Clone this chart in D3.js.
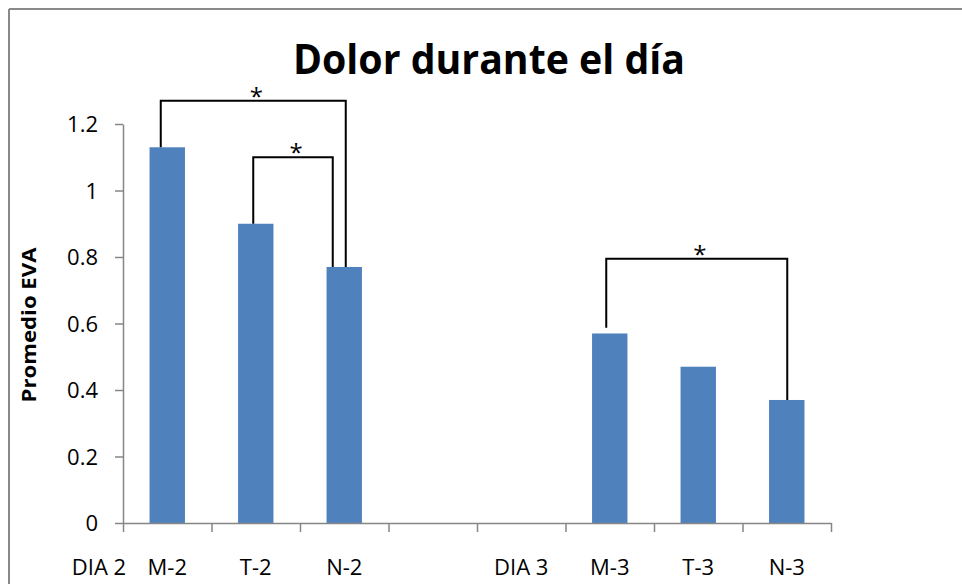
<!DOCTYPE html>
<html>
<head>
<meta charset="utf-8">
<script src="https://cdn.jsdelivr.net/npm/d3@7"></script>
<style>
  html, body { margin: 0; padding: 0; background: #fff; }
  svg { display: block; }
</style>
</head>
<body>
<svg id="chart" width="962" height="584"></svg>
<script>
// ---- data ----
const slots = ["M-2", "T-2", "N-2", "gapA", "gapB", "M-3", "T-3", "N-3"];
const categories = ["M-2", "T-2", "N-2", "M-3", "T-3", "N-3"];
const values = [1.13, 0.90, 0.77, 0.57, 0.47, 0.37];
const yTicks = [0, 0.2, 0.4, 0.6, 0.8, 1, 1.2];
const yTickLabels = ["0", "0.2", "0.4", "0.6", "0.8", "1", "1.2"];
const groupLabels = ["DIA 2", "DIA 3"];
const title = "Dolor durante el día";
const yTitle = "Promedio EVA";
// significance brackets: from, to, top value, left end value, right end value
const bracketFrom = ["M-2", "T-2", "M-3"];
const bracketTo = ["N-2", "N-2", "N-3"];
const bracketTop = [1.27, 1.10, 0.795];
const bracketFromEnd = [1.13, 0.90, 0.587];
const bracketToEnd = [0.77, 0.77, 0.37];
const bracketMark = ["*", "*", "*"];

// ---- layout ----
const svg = d3.select("#chart");
const x0 = 123, x1 = 831, yBase = 523, yTop = 124;
const axisColor = "#868686";
const fontFamily = "'Open Sans', 'Liberation Sans', sans-serif";

const x = d3.scaleBand().domain(slots).range([x0, x1]).paddingInner(0.6).paddingOuter(0.3);
const xb = d3.scaleLinear().domain([0, slots.length]).range([x0, x1]);
const y = d3.scaleLinear().domain([0, 1.2]).range([yBase, yTop]);
const cx = s => x(s) + x.bandwidth() / 2;

// frame (left and top edges)
svg.append("line").attr("x1", 9).attr("y1", 9).attr("x2", 962).attr("y2", 9)
  .attr("stroke", "#898989").attr("stroke-width", 2);
svg.append("line").attr("x1", 9).attr("y1", 9).attr("x2", 9).attr("y2", 584)
  .attr("stroke", "#898989").attr("stroke-width", 2);

// title
svg.append("text").attr("x", 489).attr("y", 74).attr("text-anchor", "middle")
  .attr("font-family", fontFamily).attr("font-weight", "bold").attr("font-size", 42)
  .attr("textLength", 392).attr("lengthAdjust", "spacingAndGlyphs")
  .attr("fill", "#000").text(title);

// y axis
const yAxis = d3.axisLeft(y).tickValues(yTicks)
  .tickFormat((d, i) => yTickLabels[i]).tickSize(8).tickSizeOuter(0).tickPadding(17);
const gy = svg.append("g").attr("transform", `translate(${x0},0)`).call(yAxis);
gy.select(".domain").attr("stroke", axisColor).attr("stroke-width", 1.5);
gy.selectAll(".tick line").attr("stroke", axisColor).attr("stroke-width", 1.5);
gy.selectAll(".tick text").attr("font-family", fontFamily).attr("font-size", 22)
  .attr("fill", "#000").attr("dy", "0.35em");

// y title
svg.append("text")
  .attr("transform", "translate(36,325) rotate(-90)")
  .attr("text-anchor", "middle")
  .attr("font-family", fontFamily).attr("font-weight", "bold").attr("font-size", 20)
  .attr("textLength", 155).attr("lengthAdjust", "spacingAndGlyphs")
  .attr("fill", "#000").text(yTitle);

// bars
svg.append("g").selectAll("rect").data(categories).join("rect")
  .attr("x", d => x(d))
  .attr("width", x.bandwidth())
  .attr("y", (d, i) => y(values[i]))
  .attr("height", (d, i) => yBase - y(values[i]))
  .attr("fill", "#4F81BD");

// x axis (ticks at slot boundaries)
const xAxis = d3.axisBottom(xb).tickValues(d3.range(0, slots.length + 1))
  .tickFormat("").tickSize(9).tickSizeOuter(0);
const gx = svg.append("g").attr("transform", `translate(0,${yBase})`).call(xAxis);
gx.select(".domain").attr("stroke", axisColor).attr("stroke-width", 1.5);
gx.selectAll(".tick line").attr("stroke", axisColor).attr("stroke-width", 1.5);

// category labels
svg.append("g").selectAll("text").data(categories).join("text")
  .attr("x", d => cx(d)).attr("y", 575).attr("text-anchor", "middle")
  .attr("font-family", fontFamily).attr("font-size", 22).attr("fill", "#000")
  .text(d => d);

// group labels
svg.append("text").attr("x", 99).attr("y", 575).attr("text-anchor", "middle")
  .attr("font-family", fontFamily).attr("font-size", 22).attr("fill", "#000")
  .text(groupLabels[0]);
svg.append("text").attr("x", xb(4.5)).attr("y", 575).attr("text-anchor", "middle")
  .attr("font-family", fontFamily).attr("font-size", 22).attr("fill", "#000")
  .text(groupLabels[1]);

// brackets
const fromDx = [-6.5, -2.5, -3.5];
const toDx = [1.5, -11.5, 0.5];
const gb = svg.append("g");
bracketFrom.forEach((f, i) => {
  const xl = cx(f) + fromDx[i];
  const xr = cx(bracketTo[i]) + toDx[i];
  const yt = y(bracketTop[i]);
  gb.append("path")
    .attr("d", `M${xl},${y(bracketFromEnd[i])}V${yt}H${xr}V${y(bracketToEnd[i])}`)
    .attr("fill", "none").attr("stroke", "#000").attr("stroke-width", 2);
  gb.append("text").attr("x", (xl + xr) / 2 + 3).attr("y", yt + 4)
    .attr("text-anchor", "middle").attr("font-family", fontFamily)
    .attr("font-size", 24).attr("fill", "#000")
    .text(bracketMark[i]);
});
</script>
</body>
</html>
